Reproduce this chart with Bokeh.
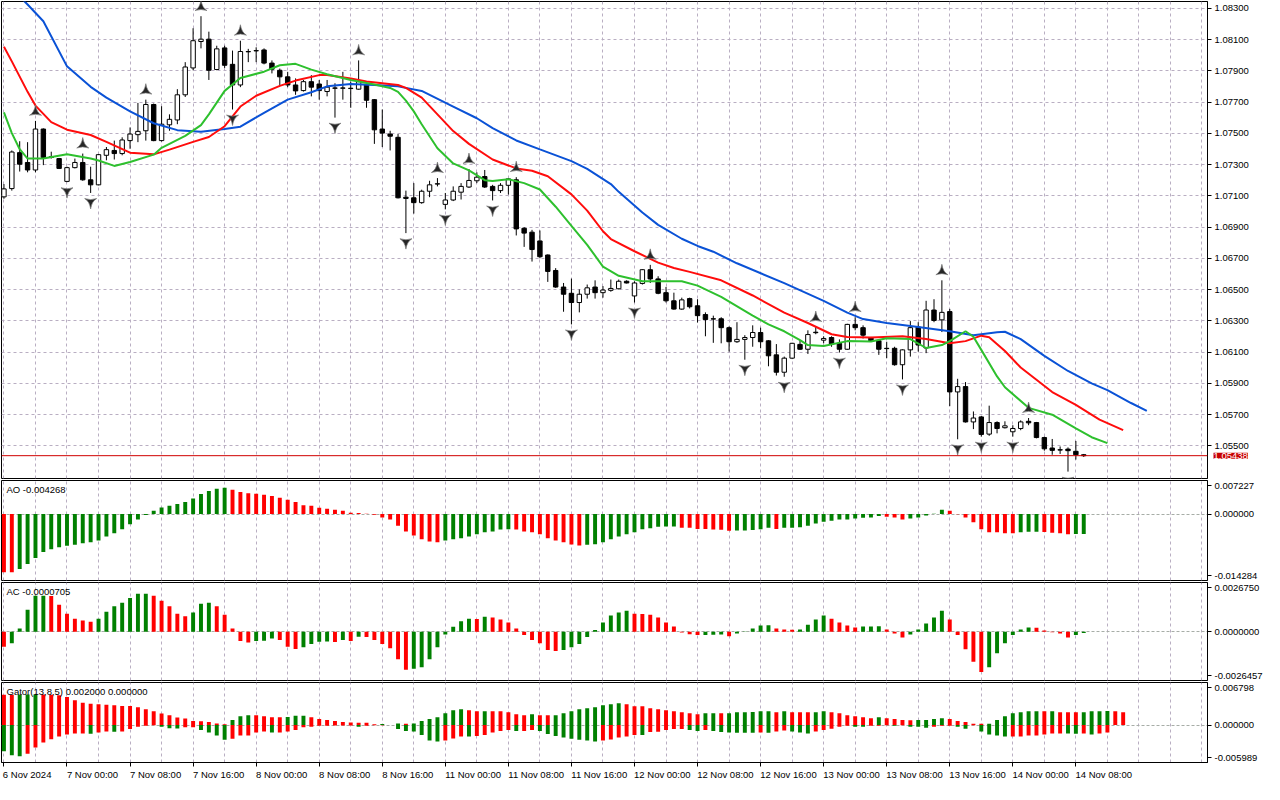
from bokeh.plotting import figure
from bokeh.models import Range1d, FixedTicker, Span, Label, Grid, NumeralTickFormatter
from bokeh.layouts import column
from bokeh.embed import file_html
from bokeh.resources import INLINE

# ---------------- data (EURUSD H1, 6 Nov 16:00 .. 14 Nov 09:00) ----------------
open_ = [1.07094, 1.07147, 1.07377, 1.07314, 1.07266, 1.07528, 1.07350, 1.07339, 1.07193, 1.07281,
         1.07314, 1.07203, 1.07171, 1.07360, 1.07391, 1.07371, 1.07454, 1.07492, 1.07517, 1.07685,
         1.07454, 1.07555, 1.07586, 1.07747, 1.07919, 1.08088, 1.08103, 1.07909, 1.08047, 1.07942,
         1.07810, 1.08022, 1.08028, 1.08034, 1.07950, 1.07904, 1.07862, 1.07810, 1.07774, 1.07831,
         1.07816, 1.07768, 1.07791, 1.07789, 1.07789, 1.07783, 1.07810, 1.07716, 1.07528, 1.07496,
         1.07475, 1.07092, 1.07088, 1.07057, 1.07130, 1.07176, 1.07046, 1.07074, 1.07124, 1.07157,
         1.07197, 1.07224, 1.07161, 1.07134, 1.07168, 1.07203, 1.06893, 1.06868, 1.06812, 1.06722,
         1.06623, 1.06517, 1.06477, 1.06418, 1.06471, 1.06517, 1.06481, 1.06496, 1.06506, 1.06554,
         1.06460, 1.06540, 1.06628, 1.06569, 1.06481, 1.06429, 1.06376, 1.06443, 1.06397, 1.06341,
         1.06314, 1.06314, 1.06257, 1.06167, 1.06182, 1.06194, 1.06226, 1.06173, 1.06083, 1.05972,
         1.06062, 1.06150, 1.06119, 1.06228, 1.06177, 1.06194, 1.06157, 1.06119, 1.06278, 1.06257,
         1.06194, 1.06173, 1.06125, 1.06125, 1.06020, 1.06115, 1.06261, 1.06127, 1.06370, 1.06307,
         1.06360, 1.05846, 1.05880, 1.05654, 1.05686, 1.05576, 1.05650, 1.05617, 1.05591, 1.05612,
         1.05658, 1.05650, 1.05554, 1.05487, 1.05476, 1.05480, 1.05466, 1.05444]
high_ = [1.07176, 1.07391, 1.07450, 1.07444, 1.07580, 1.07532, 1.07383, 1.07343, 1.07287, 1.07339,
         1.07371, 1.07287, 1.07368, 1.07413, 1.07454, 1.07475, 1.07538, 1.07695, 1.07716, 1.07691,
         1.07674, 1.07622, 1.07783, 1.07956, 1.08173, 1.08250, 1.08151, 1.08061, 1.08061, 1.08030,
         1.08093, 1.08041, 1.08051, 1.08044, 1.07967, 1.07915, 1.07894, 1.07852, 1.07842, 1.07873,
         1.07842, 1.07842, 1.07821, 1.07894, 1.07831, 1.07967, 1.07821, 1.07720, 1.07653, 1.07517,
         1.07496, 1.07134, 1.07182, 1.07140, 1.07197, 1.07214, 1.07119, 1.07161, 1.07182, 1.07272,
         1.07251, 1.07266, 1.07171, 1.07182, 1.07214, 1.07220, 1.06900, 1.06883, 1.06879, 1.06726,
         1.06638, 1.06543, 1.06571, 1.06502, 1.06533, 1.06560, 1.06523, 1.06565, 1.06565, 1.06560,
         1.06554, 1.06631, 1.06659, 1.06586, 1.06518, 1.06481, 1.06449, 1.06449, 1.06439, 1.06355,
         1.06334, 1.06324, 1.06265, 1.06292, 1.06209, 1.06272, 1.06257, 1.06177, 1.06152, 1.06072,
         1.06160, 1.06177, 1.06240, 1.06261, 1.06202, 1.06202, 1.06182, 1.06282, 1.06324, 1.06272,
         1.06198, 1.06182, 1.06167, 1.06135, 1.06119, 1.06299, 1.06292, 1.06429, 1.06439, 1.06560,
         1.06377, 1.05930, 1.05909, 1.05721, 1.05692, 1.05758, 1.05658, 1.05658, 1.05633, 1.05664,
         1.05679, 1.05654, 1.05560, 1.05545, 1.05497, 1.05491, 1.05532, 1.05449]
low_ = [1.07082, 1.07134, 1.07256, 1.07251, 1.07251, 1.07297, 1.07339, 1.07272, 1.07188, 1.07276,
        1.07197, 1.07119, 1.07168, 1.07328, 1.07333, 1.07360, 1.07402, 1.07444, 1.07454, 1.07450,
        1.07448, 1.07517, 1.07559, 1.07733, 1.07904, 1.08044, 1.07842, 1.07904, 1.07919, 1.07653,
        1.07796, 1.07956, 1.07956, 1.07942, 1.07884, 1.07810, 1.07796, 1.07747, 1.07768, 1.07737,
        1.07716, 1.07737, 1.07601, 1.07716, 1.07664, 1.07779, 1.07664, 1.07433, 1.07413, 1.07391,
        1.07084, 1.06862, 1.06987, 1.07050, 1.07092, 1.07161, 1.07014, 1.07067, 1.07077, 1.07151,
        1.07182, 1.07151, 1.07071, 1.07119, 1.07109, 1.06847, 1.06774, 1.06680, 1.06701, 1.06550,
        1.06512, 1.06359, 1.06278, 1.06355, 1.06443, 1.06443, 1.06449, 1.06487, 1.06502, 1.06540,
        1.06418, 1.06533, 1.06543, 1.06471, 1.06418, 1.06372, 1.06372, 1.06380, 1.06290, 1.06202,
        1.06160, 1.06157, 1.06104, 1.06160, 1.06052, 1.06135, 1.06125, 1.06010, 1.05951, 1.05943,
        1.06056, 1.06115, 1.06089, 1.06215, 1.06157, 1.06135, 1.06098, 1.06115, 1.06240, 1.06188,
        1.06167, 1.06083, 1.06062, 1.06014, 1.05926, 1.06072, 1.06104, 1.06094, 1.06292, 1.06229,
        1.05755, 1.05543, 1.05650, 1.05608, 1.05560, 1.05565, 1.05581, 1.05612, 1.05560, 1.05601,
        1.05633, 1.05549, 1.05470, 1.05444, 1.05449, 1.05336, 1.05413, 1.05430]
close_ = [1.07145, 1.07381, 1.07303, 1.07266, 1.07528, 1.07346, 1.07346, 1.07276, 1.07281, 1.07314,
          1.07203, 1.07171, 1.07364, 1.07396, 1.07371, 1.07458, 1.07496, 1.07513, 1.07685, 1.07454,
          1.07559, 1.07590, 1.07747, 1.07925, 1.08093, 1.08103, 1.07904, 1.08041, 1.07936, 1.07810,
          1.08024, 1.08024, 1.08030, 1.07950, 1.07911, 1.07862, 1.07810, 1.07772, 1.07831, 1.07796,
          1.07774, 1.07796, 1.07789, 1.07791, 1.07787, 1.07831, 1.07712, 1.07523, 1.07502, 1.07482,
          1.07088, 1.07084, 1.07057, 1.07130, 1.07171, 1.07178, 1.07074, 1.07130, 1.07161, 1.07199,
          1.07220, 1.07157, 1.07134, 1.07168, 1.07209, 1.06889, 1.06862, 1.06757, 1.06711, 1.06617,
          1.06517, 1.06471, 1.06418, 1.06471, 1.06512, 1.06481, 1.06498, 1.06508, 1.06554, 1.06543,
          1.06543, 1.06628, 1.06569, 1.06477, 1.06429, 1.06376, 1.06435, 1.06391, 1.06334, 1.06309,
          1.06312, 1.06257, 1.06167, 1.06182, 1.06194, 1.06226, 1.06167, 1.06077, 1.05972, 1.06062,
          1.06157, 1.06119, 1.06213, 1.06225, 1.06188, 1.06152, 1.06119, 1.06278, 1.06257, 1.06209,
          1.06173, 1.06119, 1.06123, 1.06020, 1.06115, 1.06257, 1.06146, 1.06370, 1.06303, 1.06355,
          1.05846, 1.05880, 1.05654, 1.05679, 1.05574, 1.05650, 1.05612, 1.05629, 1.05612, 1.05654,
          1.05648, 1.05554, 1.05482, 1.05472, 1.05474, 1.05470, 1.05444, 1.05438]

fractal_up = [4, 10, 18, 25, 30, 45, 55, 59, 65, 82, 103, 108, 119, 130]
fractal_dn = [8, 11, 29, 42, 51, 56, 62, 72, 80, 94, 99, 106, 114, 121, 124, 128, 135]

# Alligator (jaw shifted 8, teeth 5, lips 3)
jaw_x = [0, 3, 5, 8, 11, 13, 16, 19, 22, 25, 28, 30, 33, 36, 39, 41, 44, 47, 50, 53,
         57, 60, 62, 65, 68, 72, 74, 77, 78, 81, 83, 86, 88, 90, 93, 99, 104, 107, 109, 112,
         116, 120, 123, 126, 127, 129, 132, 135, 138, 140, 143, 145]
jaw_y = [1.08476, 1.08325, 1.08218, 1.07929, 1.07798, 1.07729, 1.07641, 1.07565, 1.07521, 1.07511,
         1.07528, 1.07543, 1.07632, 1.07716, 1.07763, 1.07801, 1.07816, 1.07810, 1.07801, 1.07772,
         1.07672, 1.07597, 1.07534, 1.07455, 1.07398, 1.07323, 1.07273, 1.07176, 1.07126, 1.06994,
         1.06915, 1.06826, 1.06780, 1.06743, 1.06669, 1.06542, 1.06429, 1.06353, 1.06312, 1.06287,
         1.06262, 1.06234, 1.06209, 1.06228, 1.06231, 1.06184, 1.06077, 1.05980, 1.05901, 1.05857,
         1.05775, 1.05725]
teeth_x = [0, 1, 3, 4, 6, 8, 11, 13, 16, 19, 21, 24, 26, 28, 30, 32, 35, 37, 40, 41,
           44, 46, 50, 51, 53, 55, 57, 59, 62, 65, 67, 69, 72, 74, 76, 77, 80, 83, 85, 87,
           91, 95, 99, 102, 105, 107, 110, 114, 117, 120, 122, 124, 125, 127, 129, 133, 136, 139, 142]
teeth_y = [1.08055, 1.07961, 1.07766, 1.07678, 1.07572, 1.07524, 1.07490, 1.07446, 1.07377, 1.07366,
           1.07396, 1.07446, 1.07477, 1.07546, 1.07672, 1.07741, 1.07804, 1.07838, 1.07873, 1.07873,
           1.07851, 1.07832, 1.07810, 1.07791, 1.07729, 1.07622, 1.07515, 1.07433, 1.07333, 1.07276,
           1.07261, 1.07226, 1.07110, 1.07006, 1.06874, 1.06824, 1.06746, 1.06673, 1.06639, 1.06614,
           1.06560, 1.06463, 1.06353, 1.06287, 1.06215, 1.06198, 1.06194, 1.06202, 1.06184, 1.06157,
           1.06171, 1.06206, 1.06196, 1.06108, 1.06002, 1.05845, 1.05763, 1.05669, 1.05602]
lips_x = [0, 1, 2, 3, 5, 8, 11, 12, 14, 16, 19, 20, 23, 25, 26, 28, 30, 33, 35, 37,
          39, 41, 44, 47, 49, 50, 51, 52, 53, 55, 57, 59, 61, 62, 64, 66, 68, 70, 72, 74,
          76, 78, 81, 83, 86, 88, 91, 95, 97, 99, 101, 102, 104, 107, 110, 112, 115, 117, 119, 120,
          122, 123, 124, 126, 127, 130, 133, 136, 138, 140]
lips_y = [1.07634, 1.07502, 1.07399, 1.07339, 1.07339, 1.07367, 1.07339, 1.07327, 1.07292, 1.07317,
          1.07364, 1.07408, 1.07484, 1.07553, 1.07622, 1.07772, 1.07854, 1.07895, 1.07936, 1.07945,
          1.07908, 1.07879, 1.07842, 1.07813, 1.07791, 1.07766, 1.07710, 1.07641, 1.07559, 1.07405,
          1.07308, 1.07264, 1.07201, 1.07195, 1.07207, 1.07182, 1.07141, 1.07031, 1.06909, 1.06787,
          1.06648, 1.06589, 1.06554, 1.06554, 1.06554, 1.06526, 1.06454, 1.06334, 1.06278, 1.06234,
          1.06177, 1.06146, 1.06140, 1.06171, 1.06168, 1.06190, 1.06184, 1.06127, 1.06146, 1.06171,
          1.06234, 1.06199, 1.06115, 1.05945, 1.05876, 1.05744, 1.05700, 1.05612, 1.05556, 1.05518]

# Awesome oscillator
ao = [-0.01250, -0.01252, -0.01180, -0.01073, -0.00946, -0.00818, -0.00754, -0.00711, -0.00682, -0.00660,
      -0.00626, -0.00605, -0.00569, -0.00483, -0.00413, -0.00328, -0.00221, -0.00115, -0.00021, 0.00070,
      0.00141, 0.00177, 0.00219, 0.00262, 0.00333, 0.00432, 0.00496, 0.00546, 0.00567, 0.00524,
      0.00475, 0.00447, 0.00439, 0.00418, 0.00390, 0.00354, 0.00311, 0.00262, 0.00192, 0.00177,
      0.00134, 0.00113, 0.00092, 0.00070, 0.00028, 0.00021, 0.00005, -0.00015, -0.00072, -0.00115,
      -0.00249, -0.00377, -0.00462, -0.00541, -0.00590, -0.00605, -0.00569, -0.00541, -0.00520, -0.00483,
      -0.00434, -0.00392, -0.00377, -0.00330, -0.00326, -0.00330, -0.00377, -0.00392, -0.00434, -0.00520,
      -0.00569, -0.00605, -0.00654, -0.00675, -0.00660, -0.00647, -0.00605, -0.00541, -0.00483, -0.00434,
      -0.00392, -0.00328, -0.00307, -0.00272, -0.00269, -0.00266, -0.00292, -0.00294, -0.00320, -0.00322,
      -0.00334, -0.00336, -0.00356, -0.00355, -0.00354, -0.00341, -0.00328, -0.00292, -0.00320, -0.00295,
      -0.00292, -0.00285, -0.00249, -0.00200, -0.00164, -0.00143, -0.00115, -0.00114, -0.00094, -0.00079,
      -0.00072, -0.00043, -0.00057, -0.00072, -0.00115, -0.00094, -0.00072, -0.00029, 0.00005, 0.00092,
      0.00070, -0.00002, -0.00072, -0.00178, -0.00328, -0.00392, -0.00393, -0.00413, -0.00414, -0.00392,
      -0.00380, -0.00378, -0.00385, -0.00400, -0.00410, -0.00432, -0.00430, -0.004268]
ao_colors = ("rr" + "g" * 27 + "r" * 27 + "g" * 9 + "r" * 9 + "g" * 12 + "r" * 7 + "g" * 5 + "r"
             + "g" * 13 + "r" * 3 + "g" * 5 + "r" * 9 + "g" * 3 + "r" * 4 + "g" * 2)

# Accelerator oscillator
ac = [-0.00081, -0.00063, 0.00018, 0.00120, 0.00195, 0.00196, 0.00194, 0.00147, 0.00098, 0.00071,
      0.00061, 0.00055, 0.00071, 0.00109, 0.00138, 0.00157, 0.00184, 0.00206, 0.00207, 0.00195,
      0.00168, 0.00138, 0.00098, 0.00084, 0.00105, 0.00152, 0.00157, 0.00138, 0.00093, 0.00018,
      -0.00050, -0.00058, -0.00050, -0.00049, -0.00036, -0.00045, -0.00081, -0.00093, -0.00084, -0.00067,
      -0.00054, -0.00053, -0.00055, -0.00045, -0.00050, -0.00027, -0.00028, -0.00045, -0.00067, -0.00090,
      -0.00149, -0.00206, -0.00201, -0.00192, -0.00149, -0.00084, -0.00015, 0.00027, 0.00057, 0.00071,
      0.00070, 0.00082, 0.00077, 0.00066, 0.00050, 0.00018, -0.00018, -0.00045, -0.00063, -0.00099,
      -0.00104, -0.00099, -0.00084, -0.00067, -0.00029, 0.00009, 0.00050, 0.00088, 0.00104, 0.00114,
      0.00098, 0.00097, 0.00093, 0.00077, 0.00050, 0.00028, -0.00004, -0.00013, -0.00018, -0.00017,
      -0.00016, -0.00015, -0.00024, -0.00009, 0.00002, 0.00018, 0.00034, 0.00035, 0.00018, 0.00012,
      0.00011, 0.00013, 0.00038, 0.00066, 0.00088, 0.00071, 0.00050, 0.00034, 0.00023, 0.00028,
      0.00029, 0.00030, 0.00012, -0.00009, -0.00031, -0.00015, 0.00012, 0.00045, 0.00077, 0.00114,
      0.00066, -0.00018, -0.00095, -0.00163, -0.00219, -0.00192, -0.00117, -0.00063, -0.00018, 0.00012,
      0.00023, 0.00022, 0.00007, -0.00002, -0.00009, -0.00031, -0.00018, -0.0000705]
ac_colors = ("r" + "g" * 5 + "r" * 6 + "g" * 7 + "r" * 5 + "g" * 3 + "r" * 5 + "g" * 3 + "r" * 3 + "g" * 4
             + "r" + "g" + "r" + "g" + "r" * 6 + "g" * 8 + "r" + "g" + "r" * 9 + "g" * 9 + "r" * 9 + "g" * 3
             + "r" + "g" * 5 + "r" * 3 + "g" * 4 + "r" * 4 + "g" * 3 + "r" * 3 + "g" * 5 + "r" * 5 + "g" * 6
             + "r" * 5 + "g" * 2)

# Gator oscillator (upper: |jaw-teeth|, lower: -|teeth-lips|)
gator_up = [0.00484, 0.00483, 0.00485, 0.00487, 0.00489, 0.00487, 0.00485, 0.00475, 0.00447, 0.00395,
            0.00358, 0.00342, 0.00331, 0.00326, 0.00316, 0.00305, 0.00303, 0.00284, 0.00253, 0.00221,
            0.00184, 0.00158, 0.00121, 0.00105, 0.00063, 0.00062, 0.00047, 0.00026, 0.00011, 0.00079,
            0.00142, 0.00158, 0.00157, 0.00142, 0.00126, 0.00125, 0.00127, 0.00147, 0.00148, 0.00126,
            0.00095, 0.00079, 0.00063, 0.00047, 0.00042, 0.00037, 0.00036, 0.00012, 0.00016, 0.00002,
            0.00024, 0.00021, 0.00023, 0.00063, 0.00095, 0.00126, 0.00189, 0.00237, 0.00253, 0.00237,
            0.00221, 0.00222, 0.00221, 0.00220, 0.00205, 0.00174, 0.00158, 0.00174, 0.00158, 0.00157,
            0.00158, 0.00189, 0.00221, 0.00253, 0.00268, 0.00284, 0.00316, 0.00331, 0.00347, 0.00331,
            0.00300, 0.00299, 0.00268, 0.00253, 0.00237, 0.00221, 0.00205, 0.00189, 0.00174, 0.00189,
            0.00190, 0.00189, 0.00190, 0.00205, 0.00206, 0.00207, 0.00221, 0.00222, 0.00205, 0.00221,
            0.00205, 0.00204, 0.00203, 0.00205, 0.00221, 0.00205, 0.00189, 0.00158, 0.00142, 0.00126,
            0.00110, 0.00126, 0.00110, 0.00095, 0.00079, 0.00078, 0.00079, 0.00080, 0.00095, 0.00110,
            0.00095, 0.00063, 0.00047, 0.00021, 0.00020, 0.00021, 0.00079, 0.00142, 0.00189, 0.00205,
            0.00221, 0.00222, 0.00221, 0.00222, 0.00205, 0.00204, 0.00203, 0.00204, 0.00221, 0.00222,
            0.00223, 0.00221, 0.00205]
gator_up_colors = ("rr" + "g" * 3 + "r" * 24 + "g" * 3 + "r" * 4 + "g" * 3 + "r" * 9 + "g" + "r" + "g" + "r"
                   + "g" * 7 + "r" * 2 + "g" + "r" * 5 + "g" + "r" * 2 + "g" * 9 + "r" * 10 + "g" * 2 + "r"
                   + "g" * 6 + "r" + "g" + "r" * 3 + "g" * 2 + "r" * 6 + "g" + "r" * 4 + "g" * 4 + "r" * 5
                   + "g" * 7 + "r" + "g" + "r" * 3 + "g" * 4 + "r" * 2)
gator_dn = [-0.00421, -0.00484, -0.00500, -0.00458, -0.00358, -0.00279, -0.00226, -0.00184, -0.00150, -0.00137,
            -0.00135, -0.00139, -0.00121, -0.00105, -0.00106, -0.00104, -0.00063, -0.00026, -0.00011, -0.00005,
            -0.00026, -0.00053, -0.00054, -0.00037, -0.00036, -0.00079, -0.00121, -0.00168, -0.00237, -0.00221,
            -0.00168, -0.00167, -0.00121, -0.00105, -0.00121, -0.00120, -0.00105, -0.00079, -0.00037, -0.00026,
            -0.00011, -0.00010, -0.00009, -0.00008, -0.00007, -0.00026, -0.00011, -0.00005, -0.00002, -0.00001,
            -0.00063, -0.00095, -0.00105, -0.00158, -0.00247, -0.00263, -0.00247, -0.00216, -0.00184, -0.00185,
            -0.00174, -0.00158, -0.00121, -0.00095, -0.00079, -0.00095, -0.00094, -0.00079, -0.00095, -0.00142,
            -0.00174, -0.00200, -0.00221, -0.00237, -0.00247, -0.00263, -0.00247, -0.00232, -0.00200, -0.00184,
            -0.00158, -0.00159, -0.00110, -0.00109, -0.00079, -0.00063, -0.00062, -0.00079, -0.00095, -0.00079,
            -0.00095, -0.00110, -0.00121, -0.00122, -0.00123, -0.00124, -0.00120, -0.00122, -0.00105, -0.00089,
            -0.00105, -0.00121, -0.00137, -0.00105, -0.00079, -0.00058, -0.00026, -0.00011, -0.00026, -0.00027,
            -0.00011, -0.00010, -0.00005, -0.00011, -0.00005, -0.00026, -0.00027, -0.00042, -0.00026, -0.00011,
            -0.00010, -0.00026, -0.00058, -0.00005, -0.00105, -0.00153, -0.00168, -0.00184, -0.00183, -0.00182,
            -0.00168, -0.00167, -0.00153, -0.00137, -0.00136, -0.00137, -0.00138, -0.00137, -0.00153, -0.00137,
            -0.00121]
gator_dn_colors = ("g" * 3 + "r" * 8 + "g" + "r" * 2 + "g" + "r" * 5 + "g" * 3 + "r" * 2 + "g" * 4 + "r" * 5
                   + "g" + "r" * 10 + "g" + "r" * 4 + "g" * 6 + "r" * 3 + "g" + "r" * 5 + "g" + "r" * 2 + "g" * 8
                   + "r" * 5 + "g" + "r" * 5 + "g" * 2 + "r" + "g" * 6 + "r" + "g" + "r" * 2 + "g" * 3 + "r" * 5
                   + "g" * 2 + "r" * 3 + "g" + "r" + "g" * 3 + "r" * 3 + "g" * 2 + "r" + "g" * 4 + "r" * 7
                   + "g" * 2 + "r" + "g" + "r" * 2)

x_label_bars = [0, 8, 16, 24, 32, 40, 48, 56, 64, 72, 80, 88, 96, 104, 112, 120, 128, 136]
x_label_text = ["6 Nov 2024", "7 Nov 00:00", "7 Nov 08:00", "7 Nov 16:00", "8 Nov 00:00", "8 Nov 08:00",
                "8 Nov 16:00", "11 Nov 00:00", "11 Nov 08:00", "11 Nov 16:00", "12 Nov 00:00",
                "12 Nov 08:00", "12 Nov 16:00", "13 Nov 00:00", "13 Nov 08:00", "13 Nov 16:00",
                "14 Nov 00:00", "14 Nov 08:00"]
last_price = 1.05438
ao_label = "AO -0.004268"
ac_label = "AC -0.0000705"
gator_label = "Gator(13,8,5) 0.002000 0.000000"

# ---------------- styling ----------------
FONT = "Liberation Sans"
FS = "9.5px"
GREEN, RED = "#008000", "#ff0000"
CMAP = {"g": GREEN, "r": RED}
GRID_COLOR = "#b9aec2"
FW = 1206
XR = Range1d(-0.31, 152.7)
PX_PER_BAR = FW / (152.7 + 0.31)


def cols(s, n):
    c = [CMAP[ch] for ch in s][:n]
    while len(c) < n:
        c.append(c[-1])
    return c


def base_fig(fh, ylo, yhi, top=1, bottom=1, xaxis=False):
    p = figure(frame_width=FW, frame_height=fh, x_range=XR, y_range=Range1d(ylo, yhi),
               x_axis_location="below" if xaxis else None, y_axis_location="right",
               toolbar_location=None, output_backend="svg",
               min_border_left=1, min_border_right=56, min_border_top=top, min_border_bottom=bottom)
    p.grid.visible = False
    p.outline_line_color = "black"
    p.outline_line_width = 1
    p.outline_line_alpha = 1.0
    p.background_fill_color = "white"
    p.border_fill_color = "white"
    p.add_layout(Grid(dimension=0, ticker=FixedTicker(ticks=list(range(0, 153, 4))),
                      grid_line_color=GRID_COLOR, grid_line_dash="3 3", grid_line_width=1))
    ya = p.yaxis[0]
    ya.axis_line_color = "black"
    ya.major_tick_in = 0
    ya.major_tick_out = 4
    ya.major_tick_line_color = "black"
    ya.minor_tick_line_color = None
    ya.major_label_standoff = 3
    ya.major_label_text_font = FONT
    ya.major_label_text_font_size = FS
    ya.major_label_text_color = "black"
    return p


def panel_label(p, text, yhi, ylo, fh):
    px = (yhi - ylo) / fh
    p.add_layout(Label(x=-0.31 + 5 / PX_PER_BAR, y=yhi - 3 * px, text=text, text_baseline="top",
                       text_align="left", text_font=FONT, text_font_size=FS, text_color="black"))


def indicator_axis(p, ylo, yhi, fh, labels):
    px = (yhi - ylo) / fh
    t_top, t_bot = yhi - 5 * px, ylo + 5 * px
    ya = p.yaxis[0]
    ya.ticker = FixedTicker(ticks=[t_top, 0.0, t_bot])
    ya.major_label_overrides = {t_top: labels[0], 0.0: labels[1], t_bot: labels[2]}
    p.add_layout(Grid(dimension=1, ticker=FixedTicker(ticks=[0.0]), grid_line_color="#a7ada7",
                      grid_line_dash="3 2", grid_line_width=1))


# ---------------- main price panel ----------------
MAIN_H = 477
pm = base_fig(MAIN_H, 1.05292, 1.08344, top=1, bottom=1)
main_ticks = [round(1.055 + 0.002 * k, 3) for k in range(15)]
pm.yaxis[0].ticker = FixedTicker(ticks=main_ticks)
pm.yaxis[0].formatter = NumeralTickFormatter(format="0.00000")
pm.add_layout(Grid(dimension=1, ticker=FixedTicker(ticks=main_ticks), grid_line_color=GRID_COLOR,
                   grid_line_dash="3 3", grid_line_width=1))

idx = list(range(len(close_)))
pm.segment(x0=idx, y0=low_, x1=idx, y1=high_, line_color="black", line_width=1)
tops = [max(o, c) for o, c in zip(open_, close_)]
bots = [min(o, c) for o, c in zip(open_, close_)]
fills = ["white" if c >= o else "black" for o, c in zip(open_, close_)]
pm.vbar(x=idx, width=0.56, top=tops, bottom=bots, fill_color=fills, line_color="black", line_width=1)

pm.line(jaw_x, jaw_y, line_color="#0a52d6", line_width=2)
pm.line(teeth_x, teeth_y, line_color="#ff0c0c", line_width=2)
pm.line(lips_x, lips_y, line_color="#2ec02e", line_width=2)

OFF = 0.00058
pm.scatter(x=fractal_up, y=[high_[i] + OFF for i in fractal_up], marker="triangle_pin", size=12,
           fill_color="#262626", line_color="#7a7a7a", line_width=0.7)
pm.scatter(x=fractal_dn, y=[low_[i] - OFF for i in fractal_dn], marker="triangle_pin", size=12,
           angle=3.14159265, fill_color="#262626", line_color="#7a7a7a", line_width=0.7)

pm.add_layout(Span(location=last_price, dimension="width", line_color="#d00000", line_width=1))
# price tag on the price scale (placed in the right side panel so it is not clipped by the frame)
pm.add_layout(Label(x=152.7, y=last_price, x_offset=6, text="%.5f" % last_price, text_baseline="middle",
                    text_align="left", text_font=FONT, text_font_size=FS, text_color="white",
                    background_fill_color="#c80000", background_fill_alpha=1.0), "right")

# ---------------- AO ----------------
AO_H, AO_LO, AO_HI = 100, -0.014284, 0.007227
pa = base_fig(AO_H, AO_LO, AO_HI)
indicator_axis(pa, AO_LO, AO_HI, AO_H, ["0.007227", "0.000000", "-0.014284"])
pa.vbar(x=list(range(len(ao))), width=0.5, top=ao, bottom=0, fill_color=cols(ao_colors, len(ao)), line_color=None)
panel_label(pa, ao_label, AO_HI, AO_LO, AO_H)

# ---------------- AC ----------------
AC_H, AC_LO, AC_HI = 98, -0.0026457, 0.0026750
pc = base_fig(AC_H, AC_LO, AC_HI)
indicator_axis(pc, AC_LO, AC_HI, AC_H, ["0.0026750", "0.0000000", "-0.0026457"])
pc.vbar(x=list(range(len(ac))), width=0.5, top=ac, bottom=0, fill_color=cols(ac_colors, len(ac)), line_color=None)
panel_label(pc, ac_label, AC_HI, AC_LO, AC_H)

# ---------------- Gator ----------------
G_H, G_LO, G_HI = 80, -0.005989, 0.006798
pg = base_fig(G_H, G_LO, G_HI, bottom=20, xaxis=True)
indicator_axis(pg, G_LO, G_HI, G_H, ["0.006798", "0.000000", "-0.005989"])
pg.vbar(x=list(range(len(gator_up))), width=0.5, top=gator_up, bottom=0,
        fill_color=cols(gator_up_colors, len(gator_up)), line_color=None)
pg.vbar(x=list(range(len(gator_dn))), width=0.5, top=0, bottom=gator_dn,
        fill_color=cols(gator_dn_colors, len(gator_dn)), line_color=None)
panel_label(pg, gator_label, G_HI, G_LO, G_H)

xa = pg.xaxis[0]
centers = [b + len(t) * 2.32 / PX_PER_BAR for b, t in zip(x_label_bars, x_label_text)]
xa.ticker = FixedTicker(ticks=centers, minor_ticks=x_label_bars)
xa.major_label_overrides = {c: t for c, t in zip(centers, x_label_text)}
xa.major_tick_line_color = None
xa.major_tick_out = 3
xa.major_tick_in = 0
xa.minor_tick_in = 0
xa.minor_tick_out = 4
xa.minor_tick_line_color = "black"
xa.axis_line_color = "black"
xa.major_label_standoff = 2
xa.major_label_text_font = FONT
xa.major_label_text_font_size = FS
xa.major_label_text_color = "black"

layout = column(pm, pa, pc, pg)
open("out.html", "w").write(file_html(layout, INLINE, "EURUSD H1"))
